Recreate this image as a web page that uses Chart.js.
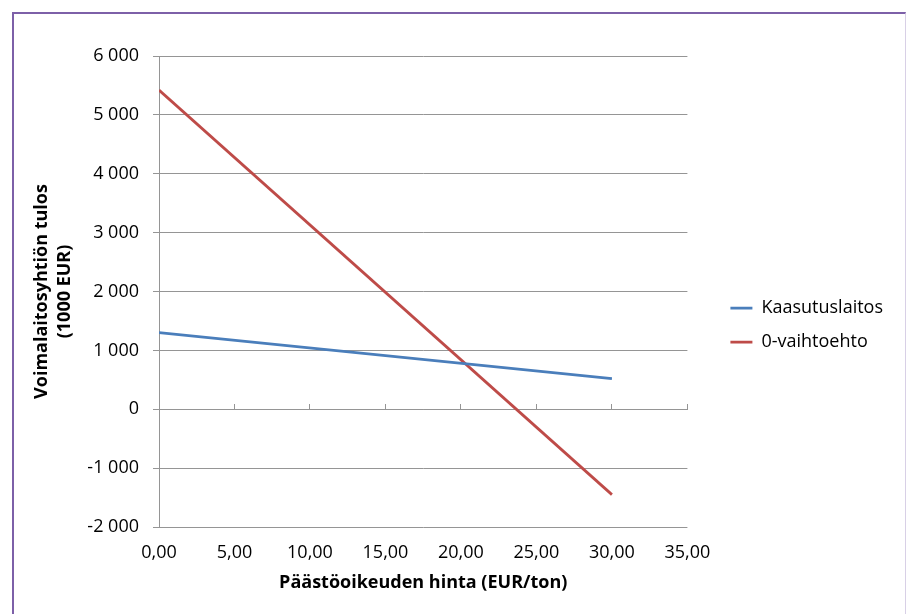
<!DOCTYPE html>
<html>
<head>
<meta charset="utf-8">
<script src="https://cdn.jsdelivr.net/npm/chart.js@4.4.1/dist/chart.umd.min.js"></script>
<style>
body { margin: 0; background: #fff; }
#wrap { position: relative; width: 906px; height: 614px; overflow: hidden; }
#frame { position: absolute; left: 12px; top: 12px; width: 891px; height: 700px;
  border-top: 2px solid #7d60a8; border-left: 2px solid #7d60a8; border-right: 1px solid #d8d0e6;
  pointer-events: none; }
</style>
</head>
<body>
<div id="wrap">
  <canvas id="kuva" width="906" height="614"></canvas>
  <div id="frame"></div>
</div>
<script>
// päästöoikeuden hinta (EUR/ton)
var hinnat = [0, 30];
// tulos, 1000 EUR
var kaasutuslaitos = [1300, 520];
var nollavaihtoehto = [5420, -1450];
var sarjat = ['Kaasutuslaitos', '0-vaihtoehto'];
var xTicks = [0, 35, 5];      // min, max, step
var yTicks = [-2000, 6000, 1000];

function pisteet(ys) {
    return hinnat.map(function (x, i) { return { x: x, y: ys[i] }; });
}
function tuhannet(v) {
    var s = String(Math.abs(v)).replace(/\B(?=(\d{3})+(?!\d))/g, ' ');
    return (v < 0 ? '-' : '') + s;
}

var harmaa = '#959595';
Chart.defaults.font.family = '"Open Sans", sans-serif';
Chart.defaults.font.size = 18;
Chart.defaults.color = '#000';

function piirra() {
    var ctx = document.getElementById('kuva').getContext('2d');
    var chart = new Chart(ctx, {
        type: 'scatter',
        data: {
            datasets: [{
                label: sarjat[0],
                data: pisteet(kaasutuslaitos),
                borderColor: '#4a7ebb',
                backgroundColor: '#4a7ebb',
                borderWidth: 2.75,
                showLine: true,
                pointRadius: 0
            }, {
                label: sarjat[1],
                data: pisteet(nollavaihtoehto),
                borderColor: '#be4b48',
                backgroundColor: '#be4b48',
                borderWidth: 2.75,
                showLine: true,
                pointRadius: 0
            }]
        },
        options: {
            responsive: false,
            animation: false,
            layout: { padding: { left: 30, top: 56, right: 13, bottom: 20 } },
            plugins: {
                tooltip: { enabled: false },
                legend: {
                    position: 'right',
                    maxWidth: 300,
                    labels: {
                        usePointStyle: true,
                        pointStyle: 'line',
                        pointStyleWidth: 22,
                        padding: 16,
                        color: '#000'
                    }
                }
            },
            scales: {
                x: {
                    type: 'linear',
                    position: 'bottom',
                    min: xTicks[0], max: xTicks[1],
                    ticks: {
                        stepSize: xTicks[2],
                        padding: 15,
                        callback: function (v) { return v.toFixed(2).replace('.', ','); }
                    },
                    grid: { display: false, drawTicks: false },
                    border: { display: false },
                    title: {
                        display: true,
                        text: 'Päästöoikeuden hinta (EUR/ton)',
                        font: { weight: 'bold' },
                        padding: { top: 0, bottom: 0 }
                    },
                    afterFit: function (s) { s.height = 67; }
                },
                x0: {
                    type: 'linear',
                    axis: 'x',
                    position: { y: 0 },
                    min: xTicks[0], max: xTicks[1],
                    ticks: { display: false, stepSize: xTicks[2] },
                    grid: { drawOnChartArea: false, color: harmaa, tickLength: -6 },
                    border: { color: harmaa }
                },
                y: {
                    type: 'linear',
                    min: yTicks[0], max: yTicks[1],
                    ticks: { stepSize: yTicks[2], padding: 14, callback: tuhannet },
                    grid: { color: harmaa, tickLength: 6 },
                    border: { color: harmaa },
                    title: {
                        display: true,
                        text: ['Voimalaitosyhtiön tulos', '(1000 EUR)'],
                        font: { weight: 'bold', lineHeight: 1.3 },
                        padding: { top: 0, bottom: 0 }
                    },
                    afterFit: function (s) { s.width = 129; }
                },
                y2: {
                    type: 'linear',
                    position: 'right',
                    min: 0, max: 1,
                    ticks: { display: false },
                    grid: { display: false },
                    border: { display: false },
                    afterFit: function (s) { s.width = 27; }
                }
            }
        }
    });
}

Promise.all([
    document.fonts.load('18px "Open Sans"'),
    document.fonts.load('bold 18px "Open Sans"')
]).then(piirra, piirra);
</script>
</body>
</html>
